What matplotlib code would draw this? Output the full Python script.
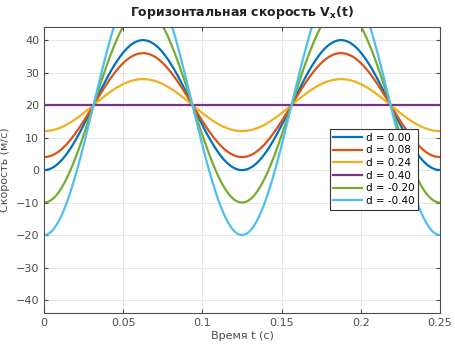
import numpy as np
import matplotlib
matplotlib.use('Agg')
import matplotlib.pyplot as plt

# параметры кривых
d_values = [0.00, 0.08, 0.24, 0.40, -0.20, -0.40]
v_min = [0, 4, 12, 20, -10, -20]   # минимум скорости, м/с
v_max = [40, 36, 28, 20, 50, 60]   # максимум скорости, м/с
period = 0.125                     # период, с
colors = ['#0072BD', '#D95319', '#EDB120', '#7E2F8E', '#77AC30', '#4DBEEE']

t = np.linspace(0, 0.25, 500)

fig = plt.figure(figsize=(4.56, 3.48), dpi=100)
ax = fig.add_axes([0.0965, 0.1006, 0.8685, 0.8214])

for d, lo, hi, c in zip(d_values, v_min, v_max, colors):
    mean = (hi + lo) / 2
    amp = (hi - lo) / 2
    vx = mean - amp * np.cos(2 * np.pi * t / period)
    ax.plot(t, vx, color=c, lw=1.6, label='d = %.2f' % d)

ax.set_xlim(0, 0.25)
ax.set_ylim(-44, 44)
ax.set_xticks([0, 0.05, 0.1, 0.15, 0.2, 0.25])
ax.set_xticklabels(['0', '0.05', '0.1', '0.15', '0.2', '0.25'])
ax.set_yticks(range(-40, 41, 10))
ax.grid(True, color='#e6e6e6', lw=0.7)
ax.set_axisbelow(True)
ax.tick_params(direction='in', labelsize=8, colors='#4d4d4d', length=3,
               top=True, right=True)
for s in ax.spines.values():
    s.set_color('#4d4d4d')
    s.set_linewidth(0.8)

ax.set_title('Горизонтальная скорость V$_\\mathbf{x}$(t)', fontsize=9,
             fontweight='bold', color='#222222', pad=8)
ax.set_xlabel('Время t (с)', fontsize=8, color='#4d4d4d', labelpad=2)
ax.set_ylabel('Скорость (м/с)', fontsize=8, color='#4d4d4d', labelpad=4)

leg = ax.legend(loc='upper right', bbox_to_anchor=(0.944, 0.643), fontsize=7.5,
                handlelength=2.8, handletextpad=0.3, labelspacing=0.25,
                borderpad=0.35, fancybox=False, framealpha=1, borderaxespad=0)
leg.get_frame().set_edgecolor('#333333')
leg.get_frame().set_linewidth(0.8)

fig.savefig('out.png', dpi=100)
